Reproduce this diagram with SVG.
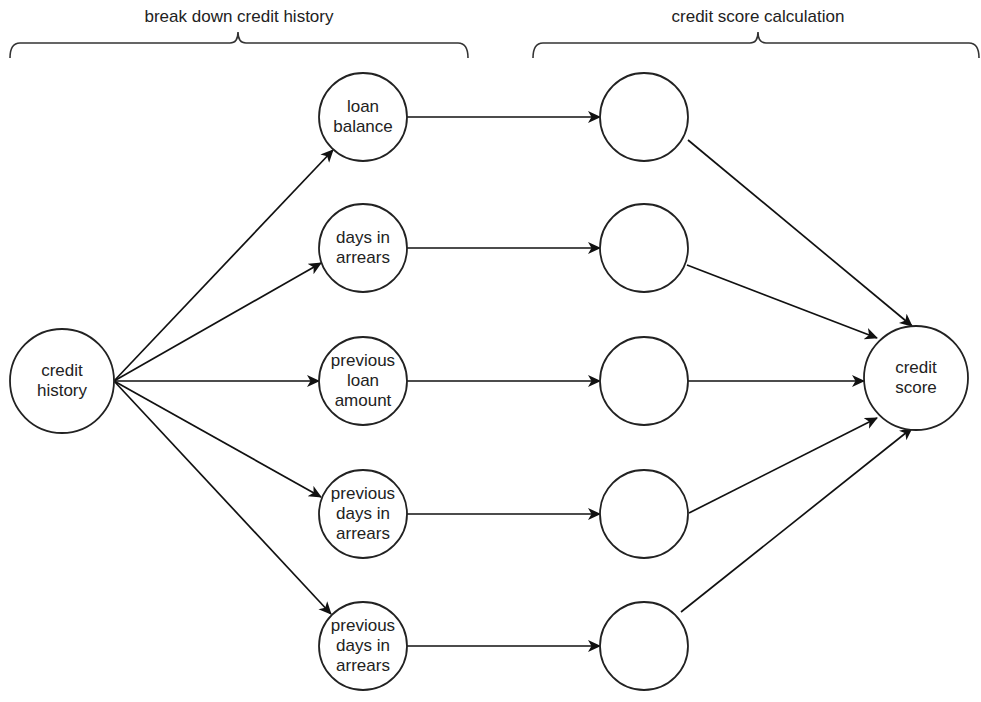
<svg xmlns="http://www.w3.org/2000/svg" width="981" height="702" viewBox="0 0 981 702">
<defs>
<marker id="arr" markerUnits="userSpaceOnUse" markerWidth="16" markerHeight="14" refX="12" refY="6" orient="auto">
<path d="M0,0 L13,6 L0,12 L3.5,6 z" fill="#111"/>
</marker>
<style>
.n{fill:#fff;stroke:#222;stroke-width:1.8}
.t{font-family:"Liberation Sans",Arial,sans-serif;font-size:17px;fill:#222;text-anchor:middle}
.e{fill:none;stroke:#111;stroke-width:1.7;marker-end:url(#arr)}
.b{fill:none;stroke:#333;stroke-width:1.6}
</style>
</defs>
<rect width="981" height="702" fill="#fff"/>
<g id="brace-left">
<path class="b" d="M10,58 Q10,43 20,43 L230,43 Q238,43 238,32 Q238,43 246,43 L458,43 Q468,43 468,58"/>
<text class="t" x="239" y="22">break down credit history</text>
</g>
<g id="brace-right">
<path class="b" d="M533,58 Q533,43 543,43 L750,43 Q758,43 758,32 Q758,43 766,43 L969,43 Q979,43 979,58"/>
<text class="t" x="758" y="22">credit score calculation</text>
</g>
<g id="connectors">
<line class="e" x1="114" y1="381" x2="333" y2="150"/>
<line class="e" x1="114" y1="381" x2="321" y2="263"/>
<line class="e" x1="114" y1="381" x2="319" y2="381"/>
<line class="e" x1="114" y1="381" x2="321" y2="497"/>
<line class="e" x1="114" y1="381" x2="331" y2="614"/>
<line class="e" x1="407" y1="117" x2="600" y2="117"/>
<line class="e" x1="407" y1="248" x2="600" y2="248"/>
<line class="e" x1="407" y1="381" x2="600" y2="381"/>
<line class="e" x1="407" y1="514" x2="600" y2="514"/>
<line class="e" x1="407" y1="646" x2="600" y2="646"/>
<line class="e" x1="688" y1="140" x2="912" y2="326"/>
<line class="e" x1="687" y1="265" x2="877" y2="338"/>
<line class="e" x1="688" y1="381" x2="864" y2="381"/>
<line class="e" x1="689" y1="513" x2="877" y2="418"/>
<line class="e" x1="681" y1="612" x2="912" y2="428"/>
</g>
<g id="credit-history">
<circle class="n" cx="62" cy="381" r="52"/>
<text class="t" x="62" y="376">credit</text>
<text class="t" x="62" y="396">history</text>
</g>
<g id="loan-balance">
<circle class="n" cx="363" cy="117" r="44"/>
<text class="t" x="363" y="112">loan</text>
<text class="t" x="363" y="132">balance</text>
</g>
<g id="days-in-arrears">
<circle class="n" cx="363" cy="248" r="44"/>
<text class="t" x="363" y="243">days in</text>
<text class="t" x="363" y="263">arrears</text>
</g>
<g id="previous-loan-amount">
<circle class="n" cx="363" cy="381" r="44"/>
<text class="t" x="363" y="366">previous</text>
<text class="t" x="363" y="386">loan</text>
<text class="t" x="363" y="406">amount</text>
</g>
<g id="previous-days-in-arrears-1">
<circle class="n" cx="363" cy="514" r="44"/>
<text class="t" x="363" y="499">previous</text>
<text class="t" x="363" y="519">days in</text>
<text class="t" x="363" y="539">arrears</text>
</g>
<g id="previous-days-in-arrears-2">
<circle class="n" cx="363" cy="646" r="44"/>
<text class="t" x="363" y="631">previous</text>
<text class="t" x="363" y="651">days in</text>
<text class="t" x="363" y="671">arrears</text>
</g>
<g id="calc-1"><circle class="n" cx="644" cy="117" r="44"/></g>
<g id="calc-2"><circle class="n" cx="644" cy="248" r="44"/></g>
<g id="calc-3"><circle class="n" cx="644" cy="381" r="44"/></g>
<g id="calc-4"><circle class="n" cx="644" cy="514" r="44"/></g>
<g id="calc-5"><circle class="n" cx="644" cy="646" r="44"/></g>
<g id="credit-score">
<circle class="n" cx="916" cy="378" r="52"/>
<text class="t" x="916" y="373">credit</text>
<text class="t" x="916" y="393">score</text>
</g>
</svg>
